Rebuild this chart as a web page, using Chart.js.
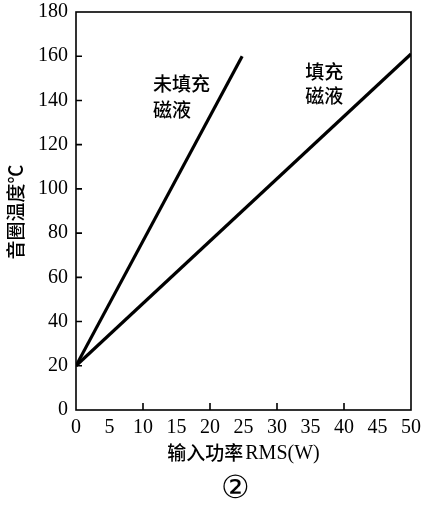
<!DOCTYPE html>
<html>
<head>
<meta charset="utf-8">
<script src="https://cdn.jsdelivr.net/npm/chart.js@4.4.1/dist/chart.umd.min.js"></script>
<style>
  html, body { margin: 0; padding: 0; background: #fff; }
  #wrap { width: 425px; height: 510px; }
</style>
</head>
<body>
<div id="wrap"><canvas id="chartSuhu"></canvas></div>
<script>
// data
const powerUnfilled = [0, 24.8];
const tempUnfilled = [20, 160];
const powerFilled = [0, 50];
const tempFilled = [20, 161];

const yTickMarks = [20, 40, 60, 80, 100, 120, 140, 160];
const xTickMarks = [10, 20, 30, 40];

const serif = "'Liberation Serif', 'Times New Roman', serif";
const cjk = "'Noto Sans CJK SC', sans-serif";

// frame + tick kecil di dalam + teks
const extras = {
  id: "extras",
  afterDraw(chart) {
    const c = chart.ctx;
    const a = chart.chartArea;
    const xs = chart.scales.x, ys = chart.scales.y;
    c.save();
    c.strokeStyle = "#000";
    c.lineWidth = 1.6;
    c.strokeRect(a.left, a.top, a.right - a.left, a.bottom - a.top);

    c.beginPath();
    yTickMarks.forEach(v => {
      const y = ys.getPixelForValue(v);
      c.moveTo(a.left, y);
      c.lineTo(a.left + 6, y);
    });
    xTickMarks.forEach(v => {
      const x = xs.getPixelForValue(v);
      c.moveTo(x, a.bottom);
      c.lineTo(x, a.bottom - 7);
    });
    c.stroke();

    c.fillStyle = "#000";
    c.textBaseline = "middle";
    c.textAlign = "left";
    c.font = "500 19px " + cjk;
    c.fillText("未填充", xs.getPixelForValue(11.5), ys.getPixelForValue(147.5));
    c.fillText("磁液", xs.getPixelForValue(11.5), ys.getPixelForValue(136));
    c.fillText("填充", xs.getPixelForValue(34.2), ys.getPixelForValue(152.8));
    c.fillText("磁液", xs.getPixelForValue(34.2), ys.getPixelForValue(142.3));

    // judul sumbu x
    const midX = (a.left + a.right) / 2;
    const t1 = "输入功率";
    c.font = "500 19px " + cjk;
    const w1 = c.measureText(t1).width;
    c.font = "20px " + serif;
    const w2 = c.measureText("RMS(W)").width;
    let sx = midX - (w1 + w2 + 2) / 2;
    c.textAlign = "left";
    c.font = "500 19px " + cjk;
    c.fillText(t1, sx, 453);
    c.font = "20px " + serif;
    c.fillText("RMS(W)", sx + w1 + 2, 454);

    c.textAlign = "center";
    c.font = "32px " + serif;
    c.fillText("②", midX - 8, 490);

    // judul sumbu y
    c.translate(16, 212);
    c.rotate(-Math.PI / 2);
    c.font = "500 19px " + cjk;
    c.fillText("音圈温度℃", 0, 0);
    c.restore();
  }
};

new Chart(document.getElementById("chartSuhu"), {
  type: "scatter",
  data: {
    datasets: [{
      label: "未填充磁液",
      data: powerUnfilled.map((x, i) => ({ x: x, y: tempUnfilled[i] })),
      showLine: true,
      borderColor: "#000",
      borderWidth: 3.2,
      pointRadius: 0
    }, {
      label: "填充磁液",
      data: powerFilled.map((x, i) => ({ x: x, y: tempFilled[i] })),
      showLine: true,
      borderColor: "#000",
      borderWidth: 3.2,
      pointRadius: 0
    }]
  },
  options: {
    responsive: true,
    maintainAspectRatio: false,
    animation: false,
    layout: { padding: { top: 12, right: 14, left: 0, bottom: 0 } },
    plugins: {
      legend: { display: false },
      tooltip: { enabled: false }
    },
    scales: {
      x: {
        type: "linear",
        min: 0, max: 50,
        grid: { display: false, drawTicks: false },
        border: { display: false },
        ticks: { stepSize: 5, color: "#000", padding: 6, maxRotation: 0, font: { family: serif, size: 20 } },
        afterFit(s) { s.height = 100; s.paddingLeft = 0; s.paddingRight = 0; }
      },
      y: {
        min: 0, max: 180,
        grid: { display: false, drawTicks: false },
        border: { display: false },
        ticks: { stepSize: 20, color: "#000", padding: 8, font: { family: serif, size: 20 } },
        afterFit(s) { s.width = 76; s.paddingTop = 0; s.paddingBottom = 0; }
      }
    }
  },
  plugins: [extras]
});
</script>
</body>
</html>
